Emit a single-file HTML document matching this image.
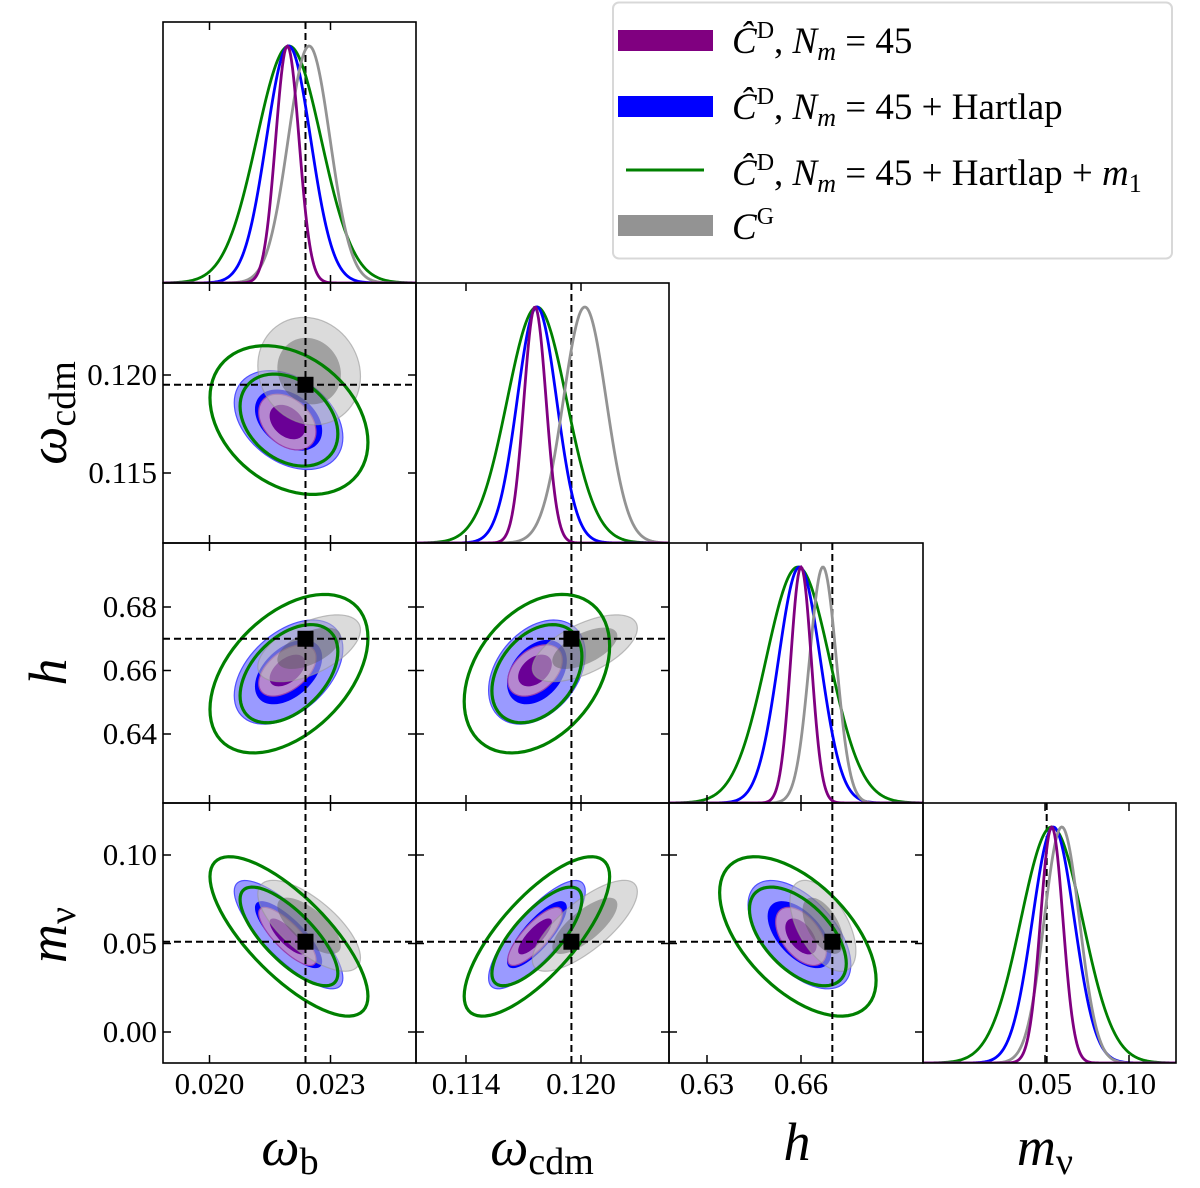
<!DOCTYPE html>
<html><head><meta charset="utf-8">
<style>
html,body{margin:0;padding:0;background:#fff;}
svg{display:block;font-family:"Liberation Serif","DejaVu Serif",serif;}
</style></head>
<body>
<svg id="chart" width="1200" height="1188" viewBox="0 0 1200 1188" xmlns="http://www.w3.org/2000/svg">
<rect x="0" y="0" width="1200" height="1188" fill="#fff"/>
<g id="content"></g>
<g id="legend">
  <rect x="613" y="2.5" width="559" height="256" rx="6" fill="#fff" stroke="#d8d8d8" stroke-width="2"/>
  <g>
    <rect x="618" y="30" width="95" height="21" fill="#800080"/>
    <text x="732" y="53" font-size="37"><tspan font-style="italic">Ĉ</tspan><tspan font-size="24" dy="-15">D</tspan><tspan dy="15">, </tspan><tspan font-style="italic">N</tspan><tspan font-style="italic" font-size="26" dy="7">m</tspan><tspan dy="-7"> = 45</tspan></text>
  </g>
  <g>
    <rect x="618" y="96" width="95" height="21" fill="#0000ff"/>
    <text x="732" y="119" font-size="37"><tspan font-style="italic">Ĉ</tspan><tspan font-size="24" dy="-15">D</tspan><tspan dy="15">, </tspan><tspan font-style="italic">N</tspan><tspan font-style="italic" font-size="26" dy="7">m</tspan><tspan dy="-7"> = 45 + Hartlap</tspan></text>
  </g>
  <g>
    <line x1="626" y1="170" x2="704" y2="170" stroke="#008000" stroke-width="3"/>
    <text x="732" y="185" font-size="37"><tspan font-style="italic">Ĉ</tspan><tspan font-size="24" dy="-15">D</tspan><tspan dy="15">, </tspan><tspan font-style="italic">N</tspan><tspan font-style="italic" font-size="26" dy="7">m</tspan><tspan dy="-7"> = 45 + Hartlap + </tspan><tspan font-style="italic">m</tspan><tspan font-size="26" dy="7">1</tspan></text>
  </g>
  <g>
    <rect x="618" y="215" width="95" height="21" fill="#939393"/>
    <text x="732" y="239" font-size="37"><tspan font-style="italic">C</tspan><tspan font-size="24" dy="-15">G</tspan></text>
  </g>
</g>
</svg>
<script>
// ---- data ----
const params = ['wb','wcdm','h','mnu'];
const seriesNames = ['gray-cg','blue-hartlap','purple-cd','green-hartlap-m1'];
const truthValues = [0.02238, 0.1195, 0.670, 0.051];
const meanWb   = [0.02247, 0.02196, 0.02193, 0.02197];
const meanWcdm = [0.1202, 0.1177, 0.1176, 0.1177];
const meanH    = [0.667, 0.6595, 0.660, 0.659];
const meanMnu  = [0.060, 0.055, 0.054, 0.054];
const sigWb    = [0.00052, 0.00055, 0.00029, 0.00080];
const sigWcdm  = [0.00112, 0.00103, 0.00058, 0.00155];
const sigH     = [0.0043, 0.0067, 0.0033, 0.0102];
const sigMnu   = [0.0105, 0.0125, 0.0067, 0.0184];
// correlations per pair: [wb-wcdm, wb-h, wcdm-h, wb-mnu, wcdm-mnu, h-mnu]
const corrGray   = [-0.1, 0.55, 0.6, -0.7, 0.75, -0.55];
const corrBlue   = [-0.35, 0.45, 0.35, -0.8, 0.8, -0.55];
const corrPurple = [-0.35, 0.5, 0.4, -0.8, 0.8, -0.5];
const corrGreen  = [-0.3, 0.45, 0.35, -0.75, 0.75, -0.55];
const tickWb   = [0.020, 0.023];
const tickWcdm = [0.114, 0.120];
const tickH    = [0.63, 0.66];
const tickMnu  = [0.05, 0.10];
const tickLabWb = ['0.020','0.023'];
const tickLabWcdm = ['0.114','0.120'];
const tickLabH = ['0.63','0.66'];
const tickLabMnu = ['0.05','0.10'];
const yTickWcdm = [0.115, 0.120];
const yTickH = [0.64, 0.66, 0.68];
const yTickMnu = [0.00, 0.05, 0.10];
const yTickLabWcdm = ['0.115','0.120'];
const yTickLabH = ['0.64','0.66','0.68'];
const yTickLabMnu = ['0.00','0.05','0.10'];

// ---- layout / axes ----
const colX = [163, 416, 669, 923, 1176];
const rowY = [22, 283, 543, 803, 1063];
function lin(d0,p0,d1,p1){return v=>p0+(v-d0)*(p1-p0)/(d1-d0);}
const X = [lin(0.020,209.5,0.023,330.5), lin(0.114,466,0.120,581), lin(0.63,707,0.66,801), lin(0.05,1045,0.10,1129)];
const Y = [null, lin(0.120,375,0.115,473), lin(0.68,607,0.64,734), lin(0.10,855,0.00,1032)];
const means = [meanWb, meanWcdm, meanH, meanMnu];
const sigs = [sigWb, sigWcdm, sigH, sigMnu];
const corrs = [corrGray, corrBlue, corrPurple, corrGreen];
const pairIndex = {'0-1':0,'0-2':1,'1-2':2,'0-3':3,'1-3':4,'2-3':5};
const xTicks = [tickWb,tickWcdm,tickH,tickMnu];
const xTickLabs = [tickLabWb,tickLabWcdm,tickLabH,tickLabMnu];
const yTicks = [null,yTickWcdm,yTickH,yTickMnu];
const yTickLabs = [null,yTickLabWcdm,yTickLabH,yTickLabMnu];

const NS='http://www.w3.org/2000/svg';
const root=document.getElementById('content');
function mk(tag,attrs,parent){const e=document.createElementNS(NS,tag);for(const k in attrs)e.setAttribute(k,attrs[k]);(parent||root).appendChild(e);return e;}

function ellipsePath(i,j,s,k){
  const mx=means[i][s], my=means[j][s], sx=sigs[i][s], sy=sigs[j][s];
  const r=corrs[s][pairIndex[i+'-'+j]];
  let d='';
  for(let t=0;t<=72;t++){
    const a=t/72*2*Math.PI;
    const vx=mx+k*sx*Math.cos(a);
    const vy=my+k*sy*(r*Math.cos(a)+Math.sqrt(1-r*r)*Math.sin(a));
    d+=(t?'L':'M')+X[i](vx).toFixed(2)+' '+Y[j](vy).toFixed(2);
  }
  return d+'Z';
}
const K68=1.515, K95=2.448;
const fillStyles = {
  0:{outer:'rgba(190,190,190,0.55)',inner:'rgba(90,90,90,0.45)',edge:'rgba(150,150,150,0.6)'},
  1:{outer:'#9a9aff',inner:'#0000ff',edge:'#5050ff'},
  2:{outer:'#b587d0',inner:'#6a0096',edge:'#9a40b0'}
};
const lineColors=['#939393','#0000ff','#800080','#008000'];

for(let r=0;r<4;r++){
  for(let c=0;c<=r;c++){
    const g=mk('g',{});
    const x0=colX[c],x1=colX[c+1],y0=rowY[r],y1=rowY[r+1];
    const clipId='clip'+r+c;
    const cp=mk('clipPath',{id:clipId},g);
    mk('rect',{x:x0,y:y0,width:x1-x0,height:y1-y0},cp);
    const inner=mk('g',{'clip-path':'url(#'+clipId+')'},g);
    if(r===c){
      
      
      const base=y1, peak=y0+24;
      const tl=mk('line',{x1:X[c](truthValues[c]),x2:X[c](truthValues[c]),y1:y0,y2:y1,stroke:'#000','stroke-width':2,'stroke-dasharray':'7,4'},inner);
      
      
      const order=[3,1,0,2];
      for(const s of order){
        let d='';
        for(let p=0;p<=250;p++){
          const px=x0+p*(x1-x0)/250;
          const v=means[c][s]; const sg=sigs[c][s];
          const pm=X[c](v), ps=Math.abs(X[c](v+sg)-pm);
          const yv=base-(base-peak)*Math.exp(-0.5*Math.pow((px-pm)/ps,2));
          d+=(p?'L':'M')+px.toFixed(2)+' '+yv.toFixed(2);
        }
        const pth=mk('path',{d:d,fill:'none',stroke:lineColors[s],'stroke-width':2.8},inner);
        
        
      }
    } else {
      
      
      for(const s of [1,2,0]){
        const f=fillStyles[s];
        const o=mk('path',{d:ellipsePath(c,r,s,K95),fill:f.outer,stroke:f.edge,'stroke-width':1.2},inner);
        
        
        const n=mk('path',{d:ellipsePath(c,r,s,K68),fill:f.inner,stroke:'none'},inner);
        
        
      }
      for(const k of [K95,K68]){
        const gl=mk('path',{d:ellipsePath(c,r,3,k),fill:'none',stroke:'#008000','stroke-width':3.2},inner);
        
        
      }
      const tx=X[c](truthValues[c]), ty=Y[r](truthValues[r]);
      const vl=mk('line',{x1:tx,x2:tx,y1:y0,y2:y1,stroke:'#000','stroke-width':2,'stroke-dasharray':'7,4'},inner);
      
      
      const hl=mk('line',{x1:x0,x2:x1,y1:ty,y2:ty,stroke:'#000','stroke-width':2,'stroke-dasharray':'7,4'},inner);
      
      
      const sq=mk('rect',{x:tx-8,y:ty-8,width:16,height:16,fill:'#000'},inner);
      
      
    }
    for(const t of xTicks[c]){
      const px=X[c](t);
      mk('line',{x1:px,x2:px,y1:y1,y2:y1-8,stroke:'#000','stroke-width':1.5},g);
      mk('line',{x1:px,x2:px,y1:y0,y2:y0+8,stroke:'#000','stroke-width':1.5},g);
    }
    if(r!==c){
      for(const t of yTicks[r]){
        const py=Y[r](t);
        mk('line',{x1:x0,x2:x0+8,y1:py,y2:py,stroke:'#000','stroke-width':1.5},g);
        mk('line',{x1:x1,x2:x1-8,y1:py,y2:py,stroke:'#000','stroke-width':1.5},g);
      }
    }
    const fr=mk('rect',{x:x0,y:y0,width:x1-x0,height:y1-y0,fill:'none',stroke:'#000','stroke-width':1.6},g);
    
    
  }
}
for(let c=0;c<4;c++){
  xTicks[c].forEach((t,i)=>{
    const tl=mk('text',{x:X[c](t),y:1094,'font-size':31,'text-anchor':'middle'});
    tl.textContent=xTickLabs[c][i];
    
    
  });
}
for(let r=1;r<4;r++){
  yTicks[r].forEach((t,i)=>{
    const tl=mk('text',{x:157,y:Y[r](t)+10,'font-size':31,'text-anchor':'end'});
    tl.textContent=yTickLabs[r][i];
    
    
  });
}
function title(x,y,main,sub,rot,name){
  const t=mk('text',{x:x,y:y,'font-size':54,'text-anchor':'middle',transform:rot?('rotate(-90 '+x+' '+y+')'):''});
  const a=mk('tspan',{'font-style':'italic'},t); a.textContent=main;
  if(sub){const b=mk('tspan',{'font-size':38,dy:9},t); b.textContent=sub;}
  
  
}
title(290,1165,'ω','b',false,'x-axis-title-wb');
title(542,1165,'ω','cdm',false,'x-axis-title-wcdm');
title(797,1160,'h','',false,'x-axis-title-h');
title(1045,1165,'m','ν',false,'x-axis-title-mnu');
title(66,413,'ω','cdm',true,'y-axis-title-wcdm');
title(66,672,'h','',true,'y-axis-title-h');
title(66,935,'m','ν',true,'y-axis-title-mnu');
</script>
</body></html>
